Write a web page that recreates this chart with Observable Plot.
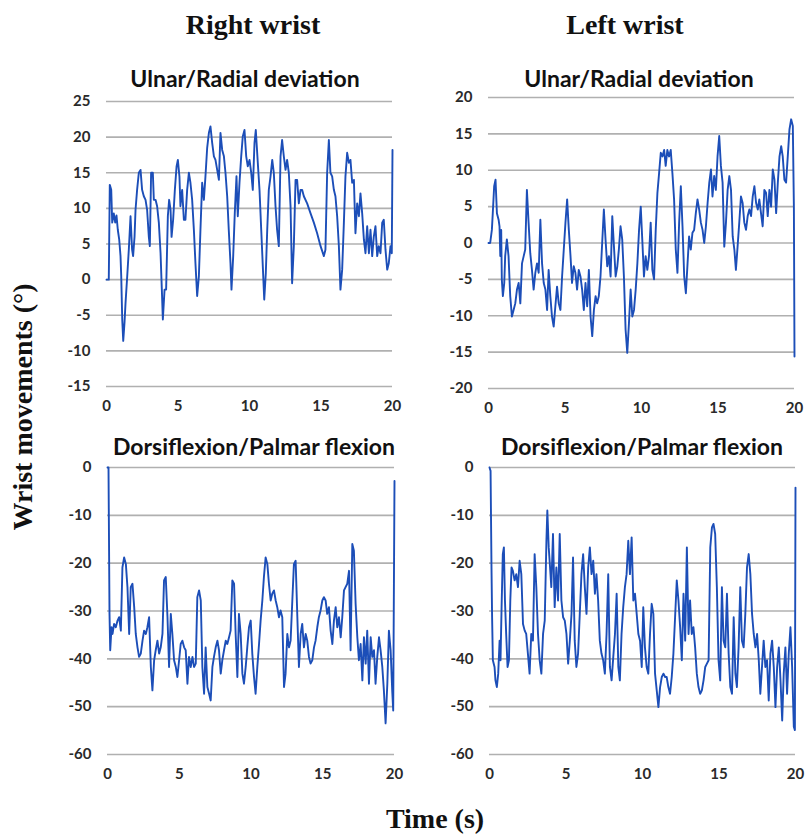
<!DOCTYPE html>
<html>
<head>
<meta charset="utf-8">
<script src="https://cdn.jsdelivr.net/npm/d3@7"></script>
<script src="https://cdn.jsdelivr.net/npm/@observablehq/plot@0.6"></script>
<style>
  html, body { margin: 0; padding: 0; background: #fff; overflow: hidden; }
  #page { position: relative; width: 807px; height: 834px; }
  #page svg.panel { position: absolute; }
  #labels { position: absolute; left: 0; top: 0; }
</style>
</head>
<body>
<div id="page">
<svg id="labels" width="807" height="834">
  <text x="253" y="34" text-anchor="middle" font-family="Liberation Serif" font-weight="bold" font-size="28" fill="#111">Right wrist</text>
  <text x="625" y="34" text-anchor="middle" font-family="Liberation Serif" font-weight="bold" font-size="28" fill="#111">Left wrist</text>
  <text x="245" y="87" text-anchor="middle" font-family="Lato" font-weight="bold" font-size="23" fill="#111">Ulnar/Radial deviation</text>
  <text x="639" y="87" text-anchor="middle" font-family="Lato" font-weight="bold" font-size="23" fill="#111">Ulnar/Radial deviation</text>
  <text x="254" y="455" text-anchor="middle" font-family="Lato" font-weight="bold" font-size="23" fill="#111">Dorsiflexion/Palmar flexion</text>
  <text x="642" y="455" text-anchor="middle" font-family="Lato" font-weight="bold" font-size="23" fill="#111">Dorsiflexion/Palmar flexion</text>
  <text x="435" y="828" text-anchor="middle" font-family="Liberation Serif" font-weight="bold" font-size="28" fill="#111">Time (s)</text>
  <text transform="translate(32,407) rotate(-90)" text-anchor="middle" font-family="Liberation Serif" font-weight="bold" font-size="28" fill="#111">Wrist movements (°)</text>
</svg>
</div>
<script>
// ---- Data (time in s, angle in degrees) ----
const xTicks = [0, 5, 10, 15, 20];
const ulnarTicksRight = [-15, -10, -5, 0, 5, 10, 15, 20, 25];
const ulnarTicksLeft = [-20, -15, -10, -5, 0, 5, 10, 15, 20];
const flexTicks = [-60, -50, -40, -30, -20, -10, 0];

const rightUlnar = [[0,0],[0.16,0],[0.23,13.3],[0.33,12.6],[0.40,8],[0.51,9.3],[0.61,8],[0.70,9],[0.79,7],[0.89,5.6],[0.98,3.3],[1.03,0.5],[1.10,-5.6],[1.17,-8.6],[1.26,-6],[1.33,-3.3],[1.45,0.5],[1.56,4.2],[1.68,8.9],[1.79,4.2],[1.86,3.3],[1.96,6],[2.03,9.8],[2.14,12.6],[2.26,15],[2.38,15.4],[2.49,12.6],[2.61,11.7],[2.73,11.2],[2.84,9.8],[2.96,6],[3.03,4.7],[3.12,15],[3.24,15],[3.31,11.2],[3.43,11.2],[3.54,10.3],[3.66,8],[3.78,3.7],[3.87,-1.4],[3.94,-5.6],[4.06,-1.4],[4.17,-1.4],[4.29,8.9],[4.38,11.2],[4.48,9.8],[4.55,6],[4.66,8.4],[4.78,12.6],[4.90,15.9],[4.99,16.8],[5.10,14.5],[5.17,10.3],[5.29,12.6],[5.41,8.4],[5.52,8.4],[5.64,12.6],[5.76,15],[5.87,13.6],[5.99,11.2],[6.11,7],[6.22,2.3],[6.34,-2.3],[6.46,0.5],[6.57,7],[6.69,13.6],[6.81,11.2],[6.92,14.5],[7.04,18.5],[7.16,20.6],[7.27,21.5],[7.39,19.2],[7.51,17.3],[7.62,16.8],[7.74,15.4],[7.86,14],[7.97,20.6],[8.09,18.2],[8.21,17.3],[8.32,15],[8.44,11.7],[8.55,7],[8.67,2.3],[8.74,-1.4],[8.86,3.3],[8.97,9.3],[9.09,14.5],[9.18,8.9],[9.30,13.6],[9.42,17.3],[9.53,20.1],[9.65,21],[9.77,17.3],[9.88,15.9],[10.0,16.8],[10.12,15],[10.23,12.6],[10.35,19.2],[10.44,21],[10.58,16.4],[10.70,12.6],[10.82,7],[10.93,1.9],[11.03,-2.8],[11.14,0.9],[11.24,7],[11.35,12.6],[11.47,14.5],[11.59,16.8],[11.70,15],[11.82,10.3],[11.93,7],[12.05,4.7],[12.17,17.3],[12.28,19.6],[12.40,17.3],[12.52,15.4],[12.63,16.8],[12.75,15],[12.87,10.3],[12.98,-0.5],[13.10,4.7],[13.22,14],[13.33,14],[13.45,10.7],[13.57,12.6],[13.68,12.6],[13.80,11.7],[14.03,10.7],[14.27,9.3],[14.50,8],[14.73,6.5],[14.97,4.7],[15.20,3.3],[15.31,4.2],[15.43,15],[15.55,19.6],[15.66,15],[15.78,14.5],[15.90,12.6],[16.01,11.7],[16.13,8.9],[16.25,4.7],[16.36,-1.4],[16.48,1.4],[16.60,8],[16.71,14.5],[16.83,17.8],[16.95,16.4],[17.06,16.8],[17.18,13.6],[17.30,14],[17.41,6.5],[17.53,10.7],[17.65,8.9],[17.76,12.1],[17.88,9.3],[18.0,5.6],[18.11,3.7],[18.23,7.5],[18.35,3.7],[18.46,7],[18.58,3.3],[18.69,6],[18.81,7.5],[18.93,3.3],[19.04,4.7],[19.16,3.7],[19.28,8],[19.39,8.4],[19.51,4.2],[19.63,1.4],[19.74,2.3],[19.86,4.7],[19.95,3.7],[20,18.2]];

const leftUlnar = [[0,0],[0.11,0],[0.22,1.8],[0.28,4.1],[0.37,7.8],[0.46,8.7],[0.55,4.1],[0.66,3.2],[0.72,2.3],[0.77,-1.8],[0.83,1.8],[0.87,-5],[0.94,-7.3],[1.03,-5.5],[1.09,-1.8],[1.20,0.5],[1.31,-1.8],[1.42,-7.3],[1.53,-10.1],[1.64,-9.2],[1.75,-8.3],[1.86,-6.4],[1.97,-5.5],[2.08,-8.3],[2.19,-2.8],[2.30,-1.8],[2.40,-0.9],[2.51,7.3],[2.62,2.8],[2.73,-1.4],[2.84,-3.7],[2.95,-6.4],[3.06,-4.1],[3.17,-2.8],[3.28,-4.1],[3.39,3.2],[3.50,-2.8],[3.61,-5.5],[3.72,-6.4],[3.83,-9.2],[3.93,-3.7],[4.04,-7.3],[4.15,-10.1],[4.26,-11.5],[4.37,-8.7],[4.48,-6],[4.59,-8.3],[4.70,-9.2],[4.81,-4.6],[4.92,-0.9],[5.03,2.8],[5.14,6],[5.25,1.8],[5.36,-1.8],[5.46,-5.5],[5.57,-3.2],[5.68,-4.1],[5.79,-6.4],[5.90,-3.7],[6.01,-4.6],[6.12,-6.4],[6.23,-9.2],[6.34,-5.5],[6.45,-8.7],[6.56,-3.7],[6.67,-10.1],[6.78,-12.8],[6.89,-9.2],[7.00,-7.3],[7.10,-8.3],[7.21,-7.3],[7.32,-4.6],[7.43,0],[7.54,4.6],[7.65,0.5],[7.76,-3.2],[7.87,-1.8],[7.98,-4.6],[8.09,3.7],[8.20,-0.5],[8.31,-4.6],[8.42,-3.2],[8.52,-0.9],[8.63,2.3],[8.74,0.5],[8.85,-4.6],[8.96,-11.9],[9.07,-15.1],[9.18,-11],[9.29,-6.4],[9.40,-10.1],[9.51,-9.2],[9.62,-6.4],[9.73,-2.8],[9.84,1.8],[9.95,5],[10.05,0.5],[10.16,-4.6],[10.27,-1.8],[10.38,-3.7],[10.49,-1.8],[10.60,2.8],[10.71,-3.7],[10.82,-5],[10.93,1.8],[11.04,6.9],[11.15,9.6],[11.26,12.4],[11.37,11.9],[11.48,12.8],[11.58,10.6],[11.69,12.8],[11.80,11.9],[11.91,12.8],[12.02,9.6],[12.13,6],[12.24,-0.9],[12.35,-4.1],[12.46,2.8],[12.57,7.8],[12.68,2.3],[12.79,-4.6],[12.90,-6.9],[13.01,-2.8],[13.11,0.9],[13.22,-0.9],[13.33,1.4],[13.44,1.8],[13.55,4.1],[13.66,6],[13.77,4.6],[13.88,2.8],[13.99,1.8],[14.10,0],[14.21,2.3],[14.32,5.5],[14.43,8.3],[14.54,10.1],[14.64,6.4],[14.75,9.2],[14.86,7.3],[14.97,11.9],[15.08,14.7],[15.19,10.6],[15.30,8.3],[15.41,-0.5],[15.52,2.8],[15.63,7.3],[15.74,9.2],[15.85,7.3],[15.96,0.9],[16.07,-0.9],[16.17,-3.7],[16.28,-0.5],[16.39,2.8],[16.50,6.4],[16.61,5.5],[16.72,2.8],[16.83,1.8],[16.94,3.7],[17.05,4.6],[17.16,3.7],[17.27,6.4],[17.38,7.8],[17.49,5.5],[17.60,4.6],[17.70,6],[17.81,4.1],[17.92,2.3],[18.03,7.3],[18.14,6.9],[18.25,3.7],[18.36,7.3],[18.47,5],[18.58,10.1],[18.69,8.7],[18.80,4.1],[18.91,8.3],[19.02,11.9],[19.13,13.3],[19.23,11.9],[19.34,8.7],[19.45,8.3],[19.56,11.9],[19.67,15.6],[19.78,17],[19.89,16.1],[19.96,5],[20,-15.6]];

const rightFlex = [[0,0],[0.07,0],[0.14,-30.6],[0.19,-38.2],[0.28,-33.4],[0.35,-34.8],[0.46,-32.7],[0.58,-33.4],[0.70,-32],[0.81,-31.3],[0.93,-34.1],[1.04,-20.9],[1.16,-18.8],[1.28,-20.2],[1.39,-25],[1.51,-34.8],[1.62,-25],[1.74,-24.3],[1.86,-29.2],[1.97,-34.8],[2.09,-37.6],[2.20,-39.6],[2.32,-38.9],[2.44,-36.2],[2.55,-34.1],[2.67,-34.8],[2.78,-33.4],[2.90,-31.3],[3.02,-41.7],[3.13,-46.6],[3.25,-40.3],[3.36,-38.2],[3.48,-36.2],[3.60,-38.9],[3.71,-37.6],[3.83,-34.8],[3.94,-23.6],[4.06,-22.9],[4.18,-31.3],[4.29,-41.7],[4.41,-30.6],[4.52,-34.8],[4.64,-40.3],[4.76,-41.7],[4.87,-43.8],[4.99,-40.3],[5.10,-36.9],[5.22,-36.2],[5.34,-37.6],[5.45,-38.2],[5.57,-45.2],[5.68,-39.6],[5.80,-41.7],[5.92,-39.6],[6.03,-41.7],[6.15,-41],[6.26,-27.1],[6.38,-25.7],[6.50,-27.8],[6.61,-41.7],[6.73,-47.3],[6.84,-37.6],[6.96,-45.9],[7.08,-47.3],[7.19,-48.7],[7.31,-41.7],[7.42,-39.6],[7.54,-37.6],[7.66,-36.2],[7.77,-38.2],[7.89,-43.1],[8.00,-40.3],[8.12,-38.2],[8.24,-36.2],[8.35,-36.9],[8.47,-35.5],[8.58,-34.1],[8.70,-23.6],[8.82,-24.3],[8.93,-34.8],[9.05,-43.8],[9.16,-30.6],[9.28,-34.8],[9.40,-43.1],[9.51,-45.2],[9.63,-41.7],[9.74,-37.6],[9.86,-33.4],[9.98,-32],[10.09,-38.9],[10.21,-43.8],[10.32,-47.3],[10.44,-41.7],[10.56,-36.9],[10.67,-32],[10.79,-27.8],[10.90,-22.9],[11.02,-18.8],[11.14,-20.2],[11.25,-24.3],[11.37,-27.8],[11.48,-26.4],[11.60,-25.7],[11.72,-27.8],[11.83,-29.2],[11.95,-31.3],[12.06,-29.9],[12.18,-31.3],[12.30,-45.9],[12.41,-43.1],[12.53,-34.8],[12.65,-37.6],[12.76,-36.2],[12.88,-27.8],[12.99,-20.2],[13.11,-19.5],[13.23,-31.3],[13.34,-41.7],[13.46,-34.8],[13.57,-32.7],[13.69,-37.6],[13.81,-34.8],[13.92,-36.2],[14.04,-39.6],[14.15,-41],[14.27,-40.3],[14.39,-37.6],[14.50,-36.2],[14.62,-33.4],[14.73,-31.3],[14.85,-29.9],[14.97,-27.8],[15.08,-27.1],[15.20,-27.8],[15.31,-30.6],[15.43,-29.2],[15.55,-34.1],[15.67,-36.9],[15.78,-32],[15.90,-29.2],[16.01,-33.4],[16.13,-31.3],[16.25,-35.5],[16.36,-31.3],[16.48,-25.7],[16.59,-25],[16.71,-24.3],[16.83,-21.6],[16.94,-38.2],[17.06,-16],[17.17,-17.4],[17.29,-28.5],[17.41,-35.5],[17.52,-40.3],[17.64,-36.9],[17.76,-44.5],[17.87,-35.5],[17.99,-41],[18.10,-34.1],[18.22,-45.2],[18.34,-35.5],[18.45,-39.6],[18.57,-38.2],[18.68,-45.2],[18.80,-39.6],[18.92,-35.5],[19.03,-38.2],[19.15,-41.7],[19.26,-46.6],[19.38,-53.5],[19.50,-45.2],[19.61,-34.1],[19.73,-38.2],[19.84,-46.6],[19.91,-50.8],[20,-2.8]];

const leftFlex = [[0,0],[0.07,-0.7],[0.13,-20.9],[0.17,-31.3],[0.22,-40.3],[0.33,-41.7],[0.39,-44.5],[0.48,-45.9],[0.57,-43.1],[0.66,-36.2],[0.72,-40.3],[0.79,-29.2],[0.87,-18.1],[0.94,-16.7],[1.01,-27.8],[1.09,-34.8],[1.18,-41.7],[1.27,-40.3],[1.36,-27.8],[1.44,-20.9],[1.53,-21.6],[1.64,-23.6],[1.75,-22.3],[1.86,-25],[1.97,-19.5],[2.08,-22.3],[2.19,-32.7],[2.30,-34.1],[2.40,-34.8],[2.51,-38.9],[2.62,-43.1],[2.73,-34.8],[2.84,-36.2],[2.95,-18.1],[3.06,-25],[3.17,-34.8],[3.28,-40.3],[3.39,-43.1],[3.50,-34.8],[3.61,-32],[3.72,-15.3],[3.78,-9],[3.87,-16.7],[3.93,-19.5],[4.04,-25],[4.15,-13.9],[4.26,-29.2],[4.37,-20.9],[4.48,-27.8],[4.59,-13.9],[4.70,-27.8],[4.81,-31.3],[4.92,-32],[5.03,-34.8],[5.14,-41],[5.25,-36.2],[5.36,-30.6],[5.46,-18.8],[5.57,-36.2],[5.68,-41.7],[5.79,-38.9],[5.90,-30.6],[6.01,-22.3],[6.12,-18.1],[6.23,-25],[6.34,-30.6],[6.45,-20.9],[6.56,-16.7],[6.67,-22.3],[6.78,-19.5],[6.89,-26.4],[6.99,-22.3],[7.10,-27.8],[7.21,-36.2],[7.32,-38.9],[7.43,-40.3],[7.54,-43.1],[7.65,-34.8],[7.76,-22.3],[7.87,-41.7],[7.98,-44.5],[8.09,-39.6],[8.20,-34.8],[8.31,-26.4],[8.42,-41.7],[8.52,-44.5],[8.63,-34.8],[8.74,-29.2],[8.85,-25],[8.96,-22.3],[9.07,-15.3],[9.18,-22.3],[9.29,-14.6],[9.40,-27.8],[9.51,-26.4],[9.62,-30.6],[9.73,-34.8],[9.84,-36.2],[9.95,-41.7],[10.05,-29.2],[10.16,-37.6],[10.27,-41.7],[10.38,-43.1],[10.49,-34.8],[10.60,-28.5],[10.71,-30.6],[10.82,-43.1],[10.93,-46.6],[11.04,-50.1],[11.15,-45.9],[11.26,-43.8],[11.37,-43.1],[11.48,-43.8],[11.58,-43.8],[11.69,-45.9],[11.80,-47.3],[11.91,-43.8],[12.02,-38.9],[12.13,-31.3],[12.24,-23.6],[12.35,-27.8],[12.46,-33.4],[12.57,-40.3],[12.68,-26.4],[12.79,-36.2],[12.90,-16.7],[13.01,-34.8],[13.11,-27.8],[13.22,-34.8],[13.33,-33.4],[13.44,-37.6],[13.55,-43.1],[13.66,-45.9],[13.77,-47.3],[13.88,-46.6],[13.99,-44.5],[14.10,-41.7],[14.21,-41],[14.32,-40.3],[14.43,-16.7],[14.54,-12.5],[14.64,-11.8],[14.75,-13.9],[14.86,-25],[14.97,-40.3],[15.08,-44.5],[15.19,-25],[15.30,-36.2],[15.41,-37.6],[15.52,-26.4],[15.63,-38.9],[15.74,-45.9],[15.85,-47.3],[15.96,-31.3],[16.07,-43.1],[16.17,-45.9],[16.28,-37.6],[16.39,-25],[16.50,-36.2],[16.61,-37.6],[16.72,-30.6],[16.83,-20.9],[16.94,-18.1],[17.05,-22.3],[17.16,-30.6],[17.27,-34.8],[17.38,-37.6],[17.49,-34.8],[17.60,-40.3],[17.70,-47.3],[17.81,-41.7],[17.92,-36.2],[18.03,-41.7],[18.14,-40.3],[18.25,-48.7],[18.36,-38.9],[18.47,-36.2],[18.58,-41.7],[18.69,-50.1],[18.80,-41.7],[18.91,-37.6],[19.02,-44.5],[19.13,-52.9],[19.23,-43.1],[19.34,-37.6],[19.45,-47.3],[19.56,-38.9],[19.67,-33.4],[19.78,-41.7],[19.89,-54.2],[19.96,-54.9],[20,-4.2]];

// ---- Drawing ----
const LINE = "#1c4eb8";
const GRID = "#b0b0b0";
const fmt = d => String(d); // plain hyphen-minus as in the original

function panel(data, yDomain, yTicks, box) {
  const svg = Plot.plot({
    width: box.width,
    height: box.height,
    marginLeft: box.mL,
    marginRight: box.mR,
    marginTop: box.mT,
    marginBottom: box.mB,
    style: {
      fontFamily: "Lato",
      fontSize: "15px",
      fontWeight: "bold",
      color: "#2a2a2a",
      background: "transparent",
      overflow: "visible"
    },
    x: { domain: [0, 20], ticks: xTicks, tickFormat: fmt, tickSize: 0, tickPadding: 14, label: null },
    y: { domain: yDomain, ticks: yTicks, tickFormat: fmt, tickSize: 0, tickPadding: 16, label: null },
    marks: [
      Plot.ruleY(yTicks, { stroke: GRID, strokeWidth: 1.7 }),
      Plot.line(data, { x: d => d[0], y: d => d[1], stroke: LINE, strokeWidth: 1.9, strokeLinejoin: "round" })
    ]
  });
  svg.classList.add("panel");
  svg.style.left = box.left + "px";
  svg.style.top = box.top + "px";
  document.getElementById("page").appendChild(svg);
}

panel(rightUlnar, [-15, 25], ulnarTicksRight, { left: 40, top: 90, width: 370, height: 326, mL: 66, mR: 18, mT: 11, mB: 30 });
panel(leftUlnar, [-20, 20], ulnarTicksLeft, { left: 420, top: 85, width: 385, height: 333, mL: 68, mR: 11, mT: 12, mB: 30 });
panel(rightFlex, [-60, 0], flexTicks, { left: 40, top: 455, width: 370, height: 329, mL: 67, mR: 16, mT: 12, mB: 30 });
panel(leftFlex, [-60, 0], flexTicks, { left: 420, top: 455, width: 385, height: 329, mL: 69, mR: 10, mT: 12, mB: 30 });

// keep the title layer on top
document.getElementById("page").appendChild(document.getElementById("labels"));
</script>
</body>
</html>
